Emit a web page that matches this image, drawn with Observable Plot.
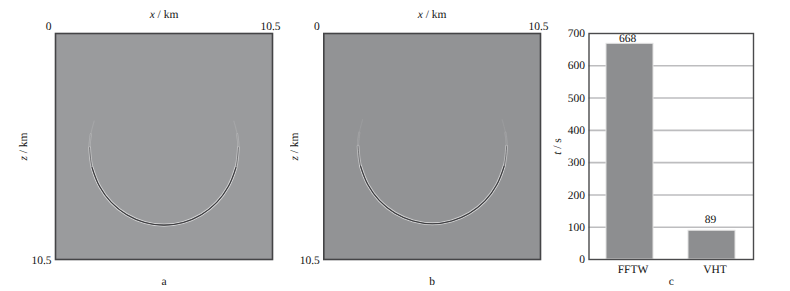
<!DOCTYPE html>
<html><head><meta charset="utf-8">
<script src="https://cdn.jsdelivr.net/npm/d3@7"></script>
<script src="https://cdn.jsdelivr.net/npm/@observablehq/plot@0.6"></script>
<style>
html,body{margin:0;padding:0;background:#fff}
#chart{display:flex;width:790px;height:291px}
svg{display:block;flex:none;background:transparent !important;text-rendering:geometricPrecision}
</style></head><body><div id="chart"></div>
<script>
const FONT = "'Liberation Serif', serif";
// Wavefront crests (km)
const arcAX = [1.87,1.71,1.65,1.77,2.13,2.70,3.45,4.32,5.25,6.18,7.05,7.80,8.37,8.73,8.85,8.79,8.63];
const arcAZ = [4.07,4.68,5.30,6.23,7.10,7.85,8.42,8.78,8.90,8.78,8.42,7.85,7.10,6.23,5.30,4.68,4.07];
const arcBX = [1.88,1.72,1.66,1.78,2.14,2.71,3.46,4.33,5.26,6.19,7.06,7.81,8.38,8.74,8.86,8.80,8.64];
const arcBZ = [4.00,4.61,5.23,6.16,7.03,7.78,8.35,8.71,8.84,8.71,8.35,7.78,7.03,6.16,5.23,4.61,4.00];
// Run times
const methods = ["FFTW","VHT"];
const seconds = [668,89];
const yTicks = [0,100,200,300,400,500,600,700];

function italicise(svg, label, letter, rest){
  d3.select(svg).selectAll("text").filter(function(){return this.textContent.trim()===label;})
    .each(function(){
      const t=d3.select(this); t.text(null);
      t.append("tspan").attr("font-style","italic").text(letter);
      t.append("tspan").text(rest);
    });
  return svg;
}
function wave(arcX, arcZ, bg, letter, width, marginLeft, marginRight, mainOpacity, labelOffset){
  const pts = arcX.map((x,i)=>({x,z:arcZ[i]}));
  const n = pts.length;
  const layer = (from, stroke, w, o)=>Plot.line(pts.slice(from,n-from),{x:"x",y:"z",stroke,strokeWidth:w,strokeOpacity:o,curve:"catmull-rom"});
  const svg = Plot.plot({
    width,height:291,marginLeft,marginRight,marginTop:33,marginBottom:32,
    style:{fontFamily:FONT,fontSize:"11.5px",color:"#111",background:"transparent"},
    x:{domain:[0,10.5],axis:null},
    y:{domain:[10.5,0],axis:null},
    marks:[
      Plot.frame({fill:bg}),
      layer(0,"#e6e6e6",1.2,mainOpacity*0.15),
      layer(1,"#e8e8e8",2.2,mainOpacity*0.3),
      layer(2,"#eeeeee",2.8,0.4),
      layer(3,"#f2f2f2",3.2,0.4),
      layer(1,"#333336",0.6,mainOpacity*0.3),
      layer(2,"#3a3a3d",0.9,0.6),
      layer(3,"#38383b",1.15,0.95),
      Plot.frame({stroke:"#444446",strokeWidth:1.6}),
      Plot.axisX({anchor:"top",ticks:[0],tickSize:0,tickPadding:4,dx:-7,label:null}),
      Plot.axisX({anchor:"top",ticks:[10.5],tickSize:0,tickPadding:4,dx:-2,tickFormat:d=>"10.5",label:"x / km",labelAnchor:"center",labelArrow:"none",labelOffset:24}),
      Plot.axisY({anchor:"left",ticks:[10.5],tickSize:0,tickPadding:4,dy:1,tickFormat:d=>"10.5",label:"z / km",labelAnchor:"center",labelArrow:"none",labelOffset}),
      Plot.text([letter],{text:d=>d,frameAnchor:"bottom",dy:25,fontSize:11.5,fill:"#111"})
    ]
  });
  italicise(svg,"x / km","x"," / km");
  return italicise(svg,"z / km","z"," / km");
}
function bars(){
  const rows = methods.map((m,i)=>({m,v:seconds[i]}));
  const svg = Plot.plot({
    width:240,height:291,marginLeft:38.5,marginRight:37,marginTop:33,marginBottom:32,
    style:{fontFamily:FONT,fontSize:"11.5px",color:"#111",background:"transparent"},
    x:{domain:methods,paddingInner:0.43,paddingOuter:0.21,axis:null},
    y:{domain:[0,700],axis:null},
    marks:[
      Plot.gridY(yTicks.slice(1,-1),{stroke:"#bdbdbf",strokeWidth:1.6,strokeOpacity:1}),
      Plot.barY(rows,{x:"m",y:"v",fill:"#8d8e90",stroke:"#e2e2e2",strokeWidth:1}),
      Plot.text(rows.filter(d=>d.m==="FFTW"),{x:"m",y:"v",text:d=>String(d.v),dx:-2.5,dy:-5.5,fontSize:11.5,fill:"#111"}),
      Plot.text(rows.filter(d=>d.m==="VHT"),{x:"m",y:"v",text:d=>String(d.v),dx:-1.5,dy:-11.5,fontSize:11.5,fill:"#111"}),
      Plot.frame({stroke:"#4a4a4c",strokeWidth:1.4}),
      Plot.axisX({anchor:"bottom",tickSize:0,tickPadding:5,dx:3,label:null}),
      Plot.axisY({anchor:"left",ticks:yTicks,tickSize:0,tickPadding:4,label:"t / s",labelAnchor:"center",labelArrow:"none",labelOffset:36}),
      Plot.text(["c"],{text:d=>d,frameAnchor:"bottom",dy:25,fontSize:11.5,fill:"#111"})
    ]
  });
  return italicise(svg,"t / s","t"," / s");
}
document.getElementById("chart").append(
  wave(arcAX,arcAZ,"#9a9b9d","a",290,55,18,1,37),
  wave(arcBX,arcBZ,"#929395","b",260,33.3,10,0.6,34),
  bars()
);
</script></body></html>
